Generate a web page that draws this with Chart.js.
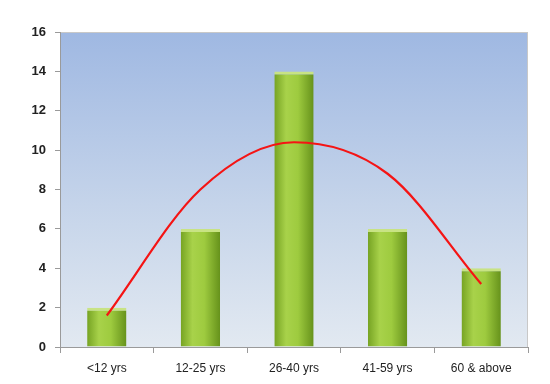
<!DOCTYPE html>
<html>
<head>
<meta charset="utf-8">
<script src="https://cdn.jsdelivr.net/npm/chart.js@4"></script>
<style>
  html, body { margin: 0; padding: 0; background: #fff; }
  #wrap { width: 550px; height: 384px; }
</style>
</head>
<body>
<div id="wrap"><canvas id="ageChart" width="550" height="384"></canvas></div>
<script>
// Age groups and counts
const ageGroups = ['<12 yrs', '12-25 yrs', '26-40 yrs', '41-59 yrs', '60 & above'];
const counts = [2, 6, 14, 6, 4];
// Red trend curve at each category
const trendValues = [1.6, 8.0, 10.4, 8.8, 3.2];
const yTicks = [0, 2, 4, 6, 8, 10, 12, 14, 16];

// Plot area background and thin frame
const plotBackground = {
    id: 'plotBackground',
    beforeDraw(chart) {
        const { ctx, chartArea: a } = chart;
        const g = ctx.createLinearGradient(0, a.top, 0, a.bottom);
        g.addColorStop(0, '#9fb8e2');
        g.addColorStop(0.55, '#c5d4ea');
        g.addColorStop(1, '#e2e9f1');
        ctx.save();
        ctx.fillStyle = g;
        ctx.fillRect(a.left, a.top, a.right - a.left, a.bottom - a.top);
        ctx.strokeStyle = '#c8c8c8';
        ctx.lineWidth = 1;
        ctx.strokeRect(a.left + 0.5, a.top + 0.5, a.right - a.left - 1, a.bottom - a.top);
        ctx.restore();
    }
};

function barGradient(context) {
    const chart = context.chart;
    const area = chart.chartArea;
    if (!area) return '#8cbc2f';
    const xScale = chart.scales.x;
    const cx = xScale.getPixelForValue(context.dataIndex);
    const half = (area.right - area.left) / ageGroups.length * 0.42 / 2;
    const g = chart.ctx.createLinearGradient(cx - half, 0, cx + half, 0);
    g.addColorStop(0, '#76a323');
    g.addColorStop(0.3, '#a8d24a');
    g.addColorStop(0.6, '#9ecb3f');
    g.addColorStop(1, '#66921b');
    return g;
}

document.addEventListener('DOMContentLoaded', function() {
    const canvas = document.getElementById('ageChart');
    new Chart(canvas, {
        data: {
            labels: ageGroups,
            datasets: [{
                type: 'line',
                data: trendValues,
                borderColor: '#f51414',
                borderWidth: 2.2,
                pointRadius: 0,
                cubicInterpolationMode: 'monotone',
                fill: false,
                order: 0
            }, {
                type: 'bar',
                data: counts,
                backgroundColor: barGradient,
                borderColor: '#c8e384',
                borderWidth: { top: 3, left: 0, right: 0, bottom: 0 },
                borderSkipped: false,
                barPercentage: 0.42,
                categoryPercentage: 1,
                order: 1
            }]
        },
        options: {
            responsive: false,
            animation: false,
            layout: { padding: { left: 10, right: 22, top: 32, bottom: 8 } },
            plugins: {
                legend: { display: false },
                tooltip: { enabled: false }
            },
            scales: {
                x: {
                    offset: true,
                    grid: { offset: true, drawOnChartArea: false, drawTicks: true, tickLength: 6, color: '#9a9a9a' },
                    border: { display: true, color: '#9a9a9a', width: 1 },
                    ticks: {
                        color: '#222',
                        padding: 8,
                        font: { family: 'Liberation Sans', size: 12 },
                        maxRotation: 0
                    },
                    afterFit(scale) { scale.height = 29; }
                },
                y: {
                    min: 0,
                    max: 16,
                    afterBuildTicks(scale) { scale.ticks = yTicks.map(v => ({ value: v })); },
                    grid: { drawOnChartArea: false, drawTicks: true, tickLength: 5, color: '#9a9a9a' },
                    border: { display: true, color: '#9a9a9a', width: 1 },
                    ticks: {
                        color: '#222',
                        padding: 9,
                        font: { family: 'Liberation Sans', size: 13, weight: 'bold' }
                    },
                    afterFit(scale) { scale.width = 50; }
                }
            }
        },
        plugins: [plotBackground]
    });
});
</script>
</body>
</html>
